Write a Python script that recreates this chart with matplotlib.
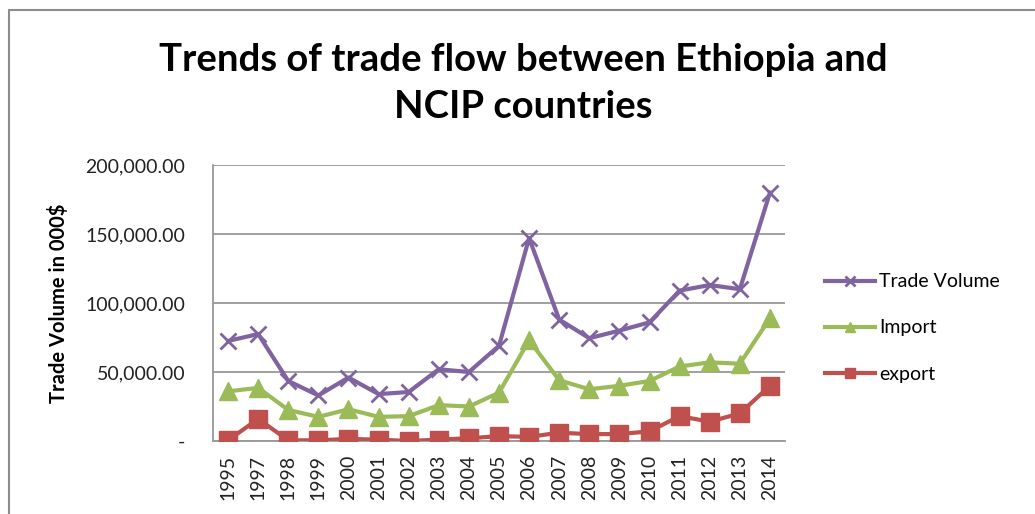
import matplotlib
matplotlib.use("Agg")
import matplotlib.pyplot as plt
from matplotlib.patches import Rectangle
from matplotlib.ticker import FuncFormatter

years = ["1995", "1997", "1998", "1999", "2000", "2001", "2002", "2003", "2004", "2005",
         "2006", "2007", "2008", "2009", "2010", "2011", "2012", "2013", "2014"]
trade_volume = [72500, 77500, 43500, 33000, 46000, 34000, 35500, 52000, 50000, 69000,
                147000, 88000, 74500, 80000, 86000, 109000, 113000, 110000, 180000]
imports = [36000, 38500, 22500, 17500, 23000, 17500, 18000, 26000, 25000, 35000,
           73000, 44000, 37500, 40000, 43500, 54000, 57000, 56000, 89000]
exports = [500, 16000, 500, 500, 1500, 1000, 0, 1000, 2000, 3500,
           3000, 6000, 5000, 5000, 7000, 18000, 14000, 20000, 40000]
y_ticks = [0, 50000, 100000, 150000, 200000]

plt.rcParams['font.family'] = ['Lato', 'DejaVu Sans']

W, H = 1035, 514
fig = plt.figure(figsize=(W / 100, H / 100), dpi=100)
fig.patch.set_facecolor('white')

# outer chart frame
fig.add_artist(Rectangle((9 / W, -0.1), 1.2, 1 - 10 / H + 0.1, transform=fig.transFigure,
                         fill=False, edgecolor='#8c8c8c', linewidth=1.5))

ax = fig.add_axes([213 / W, 1 - 441 / H, (785 - 213) / W, (441 - 165) / H])
x = list(range(len(years)))

ax.plot(x, trade_volume, color='#8064A2', lw=3, marker='x', ms=11, mew=2,
        label='Trade Volume', zorder=3)
ax.plot(x, imports, color='#9BBB59', lw=3, marker='^', ms=13, label='Import', zorder=3)
ax.plot(x, exports, color='#C0504D', lw=3, marker='s', ms=12.5, label='export', zorder=3)

ax.set_xlim(-0.5, len(years) - 0.5)
ax.set_ylim(0, 200000)
ax.set_yticks(y_ticks)
ax.yaxis.set_major_formatter(FuncFormatter(lambda v, p: '-' if v == 0 else f'{v:,.2f}'))
ax.set_xticks(x)
ax.set_xticklabels(years, rotation=90)
ax.tick_params(axis='both', length=0, labelsize=14, colors='#222222')
ax.tick_params(axis='y', pad=20)
ax.tick_params(axis='x', pad=10)

ax.grid(axis='y', color='#999999', lw=1.3)
ax.set_axisbelow(True)
for s in ['top', 'right']:
    ax.spines[s].set_visible(False)
ax.spines['left'].set_color('#999999')
ax.spines['bottom'].set_color('#999999')
ax.spines['left'].set_linewidth(1.3)
ax.spines['bottom'].set_linewidth(1.3)

ax.set_ylabel('Trade Volume in 000$', fontsize=14.5, fontweight='bold', labelpad=12)

fig.text(523 / W, 1 - 60 / H, 'Trends of trade flow between Ethiopia and', ha='center',
         va='center', fontsize=27.5, fontweight='bold')
fig.text(523 / W, 1 - 107 / H, 'NCIP countries', ha='center', va='center',
         fontsize=27.5, fontweight='bold')

leg = ax.legend(loc='center left', bbox_to_anchor=(807 / W, 1 - 328 / H),
                bbox_transform=fig.transFigure, frameon=False, fontsize=14,
                handlelength=2.6, handletextpad=0.2, labelspacing=1.5, markerscale=0.6)

fig.savefig('out.png', dpi=100, facecolor='white')
